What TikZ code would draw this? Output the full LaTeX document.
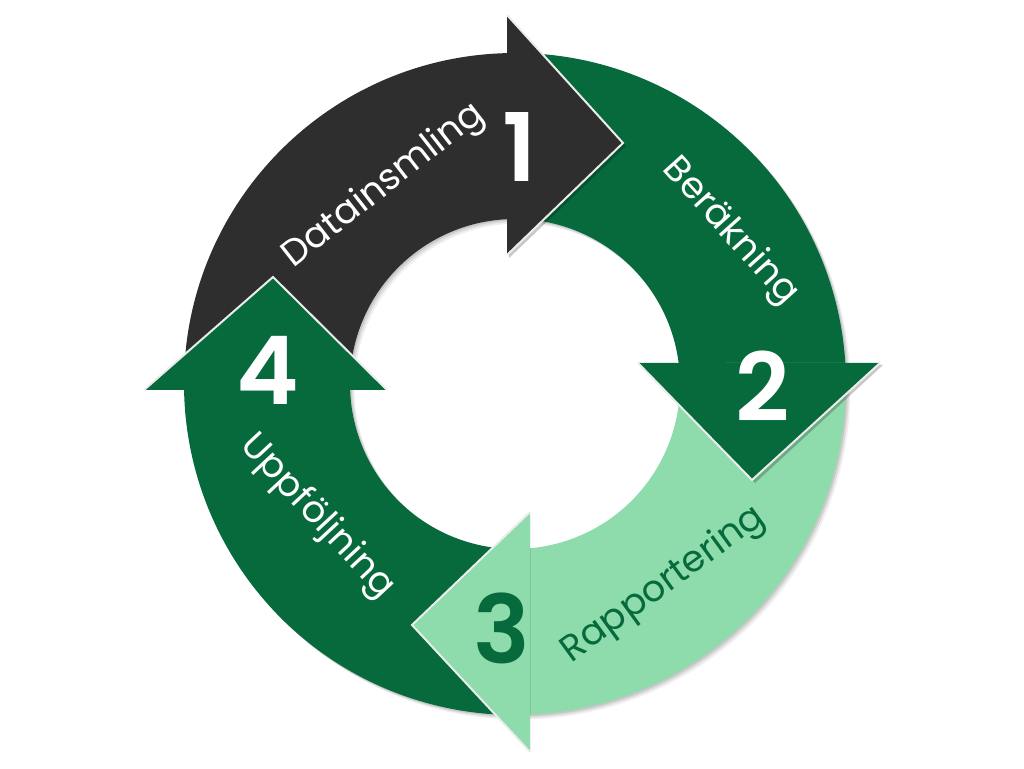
\documentclass[tikz,border=0pt]{standalone}
\usepackage{fontspec}
\setmainfont{Poppins}
\newfontfamily\numfont{Poppins SemiBold}
\definecolor{dk}{RGB}{46,46,46}
\definecolor{gd}{RGB}{6,106,61}
\definecolor{gl}{RGB}{142,219,171}
\definecolor{edge}{RGB}{236,236,236}
\begin{document}
\begin{tikzpicture}[x=0.75pt,y=0.75pt,
  lbl/.style={font=\fontsize{27.5}{30}\selectfont, inner sep=0pt},
  num/.style={font=\fontsize{71}{76}\numfont, inner sep=0pt},
  headedge/.style={draw=edge, line width=1.5pt, line join=miter},
  hshadow/.style={fill=black, opacity=0.22}
]
\useasboundingbox (0,0) rectangle (1024,768);
\begin{scope}[shift={(515,384)}]
% ring shadow
\foreach \s/\o in {1.5/0.10, 3/0.08, 4.5/0.06}{
  \fill[black, opacity=\o, even odd rule] (\s,-\s) circle[radius=331] (\s,-\s) circle[radius=165];
}
% bodies
\fill[dk] (181.04:331) arc[start angle=181.04, end angle=91.39, radius=331]
  -- (92.78:165) arc[start angle=92.78, end angle=182.08, radius=165] -- cycle;
\fill[gd] (91.39:331) arc[start angle=91.39, end angle=3.64, radius=331]
  -- (7.31:165) arc[start angle=7.31, end angle=92.78, radius=165] -- cycle;
\fill[gl] (3.64:331) arc[start angle=3.64, end angle=-87.40, radius=331]
  -- (-84.78:165) arc[start angle=-84.78, end angle=7.31, radius=165] -- cycle;
\fill[gd] (-87.40:331) arc[start angle=-87.40, end angle=-178.96, radius=331]
  -- (-177.92:165) arc[start angle=-177.92, end angle=-84.78, radius=165] -- cycle;
% heads
% head 1
\begin{scope}
  \clip (-8,-500) rectangle (500,500);
  \fill[hshadow] (-6,367) -- (111,238) -- (-6,126) -- cycle;
\end{scope}
\fill[dk] (-8,369) -- (108,241) -- (-8,129) -- cycle;
\draw[headedge] (-8,369) -- (108,241) -- (-8,129);
% head 2
\begin{scope}
  \clip (-500,21) rectangle (500,-500);
  \fill[hshadow] (126,19) -- (240,-99) -- (368,19) -- cycle;
\end{scope}
\fill[gd] (123,21) -- (237,-96) -- (365,21) -- cycle;
\draw[headedge] (123,21) -- (237,-96) -- (365,21);
% head 3
\begin{scope}
  \clip (15,-500) rectangle (-500,500);
  \fill[hshadow] (17,-130) -- (-100,-244) -- (17,-370) -- cycle;
\end{scope}
\fill[gl] (15,-128) -- (-103,-241) -- (15,-368) -- cycle;
\draw[headedge] (15,-128) -- (-103,-241) -- (15,-368);
% head 4
\begin{scope}
  \clip (-500,-6) rectangle (500,500);
  \fill[hshadow] (-368,-8) -- (-239,104) -- (-126,-8) -- cycle;
\end{scope}
\fill[gd] (-371,-6) -- (-242,107) -- (-128,-6) -- cycle;
\draw[headedge] (-371,-6) -- (-242,107) -- (-128,-6);
% labels
\node[lbl, text=white, rotate=38] (t1) at (-131,198) {Datainsmling};
\node[lbl, text=white, rotate=-48] (t2) at (215,152) {Beräkning};
\node[lbl, text=gd, rotate=36] (t3) at (149,-201) {Rapportering};
\node[lbl, text=white, rotate=-47] (t4) at (-198,-133) {Uppföljning};
% numbers
\node[num, text=white] (n1) at (5,237) {1};
\node[num, text=white] (n2) at (248,-2) {2};
\node[num, text=gd] (n3) at (-13,-244) {3};
\node[num, text=white] (n4) at (-247,14) {4};
\end{scope}
\end{tikzpicture}
\end{document}
